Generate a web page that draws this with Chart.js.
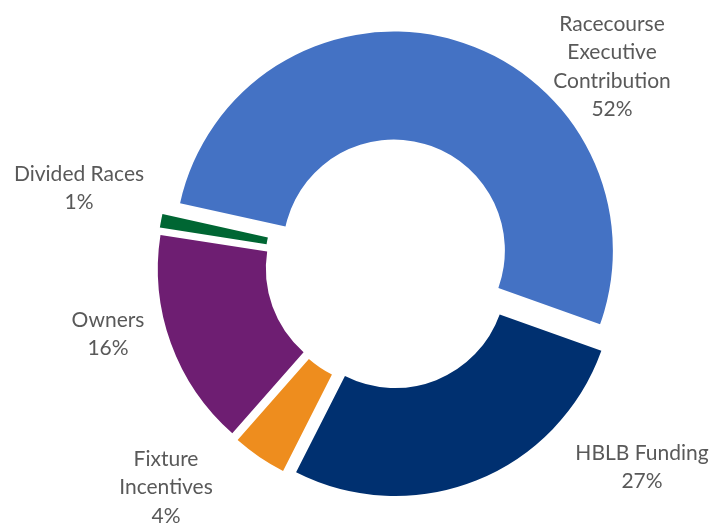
<!DOCTYPE html>
<html>
<head>
<meta charset="utf-8">
<script src="https://cdn.jsdelivr.net/npm/chart.js@4/dist/chart.umd.min.js"></script>
<style>
  body { margin: 0; background: #fff; }
</style>
</head>
<body>
<canvas id="chart" width="711" height="524"></canvas>
<script>
const categories = ['Racecourse Executive Contribution', 'HBLB Funding', 'Fixture Incentives', 'Owners', 'Divided Races']
const values = [52, 27, 4, 16, 1]
const colours = ['#4472C4', '#003070', '#EE8D1E', '#6E1E72', '#006633']

// label text lines and where Excel put them
const labelLines = [
    ['Racecourse', 'Executive', 'Contribution'],
    ['HBLB Funding'],
    ['Fixture', 'Incentives'],
    ['Owners'],
    ['Divided Races']
]
const labelPos = [[612, 24], [642, 453], [166, 459], [108, 320], [79, 174]]

const EXPLODE = 14
const LINE_H = 28.5
const OUTER = 219
const INNER = 111

const explode = {
    id: 'explode',
    afterDatasetsUpdate(chart) {
        chart.getDatasetMeta(0).data.forEach(arc => {
            const mid = (arc.startAngle + arc.endAngle) / 2
            arc.x += Math.cos(mid) * EXPLODE
            arc.y += Math.sin(mid) * EXPLODE
        })
    }
}

const outsideLabels = {
    id: 'outsideLabels',
    afterDraw(chart) {
        const ctx = chart.ctx
        const total = values.reduce((a, b) => a + b, 0)
        ctx.save()
        ctx.font = '21px Lato, "Open Sans", sans-serif'
        ctx.fillStyle = '#595959'
        ctx.textAlign = 'center'
        ctx.textBaseline = 'middle'
        labelLines.forEach((lines, i) => {
            const pct = Math.round(values[i] / total * 100) + '%'
            const [x, y] = labelPos[i]
            lines.concat([pct]).forEach((t, j) => {
                ctx.fillText(t, x, y + j * LINE_H)
            })
        })
        ctx.restore()
    }
}

new Chart(document.getElementById('chart'), {
    type: 'doughnut',
    data: {
        labels: categories,
        datasets: [{
            data: values,
            backgroundColor: colours,
            borderWidth: 0
        }]
    },
    options: {
        responsive: false,
        animation: false,
        rotation: -77.5,
        radius: OUTER,
        cutout: (INNER / OUTER * 100) + '%',
        layout: { padding: { left: 69, right: 0, top: 4, bottom: 0 } },
        plugins: {
            legend: { display: false },
            tooltip: { enabled: false }
        }
    },
    plugins: [explode, outsideLabels]
})
</script>
</body>
</html>
